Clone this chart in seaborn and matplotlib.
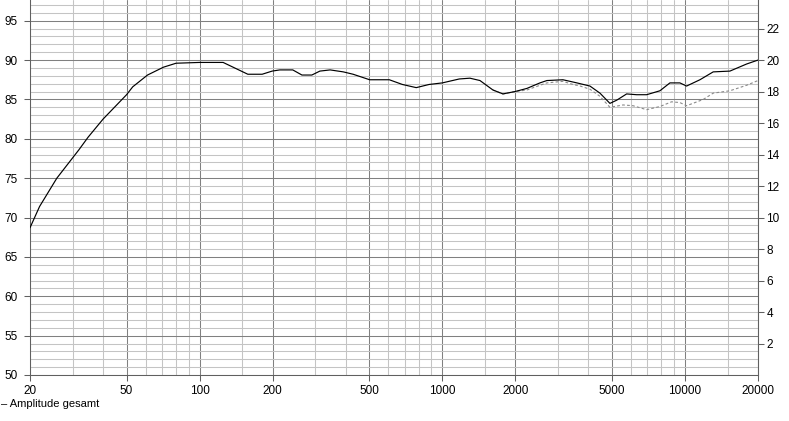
import numpy as np
import pandas as pd
import matplotlib
matplotlib.use("Agg")
import matplotlib.pyplot as plt
import seaborn as sns
from matplotlib.ticker import FixedLocator, NullFormatter

# ── Data ──────────────────────────────────────────────────────
freq_total = [20, 21.9, 25.8, 31.8, 34.7, 40, 50, 53, 61, 71, 80, 100, 125, 158, 181,
              199, 214, 242, 264, 290, 313, 345, 391, 429, 502, 605, 685, 781, 882,
              1000, 1175, 1300, 1430, 1617, 1778, 1993, 2232, 2526, 2698, 3142, 3588,
              4060, 4464, 4907, 5230, 5750, 6322, 6950, 7886, 8670, 9534, 10156,
              11526, 13074, 15320, 17950, 20000]
amp_total = [68.7, 71.4, 75.0, 78.6, 80.2, 82.5, 85.6, 86.6, 88.1, 89.1, 89.6, 89.7,
             89.7, 88.2, 88.2, 88.6, 88.75, 88.75, 88.1, 88.1, 88.6, 88.75, 88.5, 88.2,
             87.5, 87.5, 86.9, 86.5, 86.9, 87.1, 87.6, 87.7, 87.4, 86.2, 85.7, 86.0,
             86.4, 87.1, 87.4, 87.5, 87.1, 86.7, 85.8, 84.5, 84.9, 85.7, 85.6, 85.6,
             86.1, 87.1, 87.1, 86.7, 87.5, 88.5, 88.6, 89.5, 90.0]

freq_ref = [1617, 1778, 1993, 2232, 2526, 2698, 3142, 3454, 3700, 4060, 4464, 4907,
            5560, 6113, 6950, 7886, 8812, 9534, 10156, 11897, 13074, 15320, 17950, 20000]
amp_ref = [86.2, 85.7, 86.0, 86.2, 86.8, 87.1, 87.3, 86.9, 86.7, 86.3, 85.4, 84.0,
           84.3, 84.2, 83.7, 84.1, 84.7, 84.6, 84.2, 85.0, 85.8, 86.1, 86.8, 87.4]

x_major = [20, 50, 100, 200, 500, 1000, 2000, 5000, 10000, 20000]
x_minor = [30, 40, 60, 70, 80, 90, 150, 300, 400, 600, 700, 800, 900, 1500,
           3000, 4000, 6000, 7000, 8000, 9000, 15000]
y_left_ticks = list(range(50, 100, 5))
y_right_ticks = list(range(2, 24, 2))

df_total = pd.DataFrame({"freq": freq_total, "amp": amp_total})
df_ref = pd.DataFrame({"freq": freq_ref, "amp": amp_ref})

# ── Figure ────────────────────────────────────────────────────
sns.set_style("white")
plt.rcParams["font.family"] = ["Liberation Sans", "DejaVu Sans"]

W, H = 789, 421
fig = plt.figure(figsize=(W / 100, H / 100), dpi=100)
ax = fig.add_axes([30 / W, (H - 375) / H, 728 / W, 375 / H])

MAJOR = "#808080"
MINOR = "#c4c4c4"
AXIS = "#606060"

sns.lineplot(data=df_ref, x="freq", y="amp", ax=ax, color="#8a8a8a",
             linewidth=0.8, linestyle=(0, (2.5, 2)), zorder=3)
sns.lineplot(data=df_total, x="freq", y="amp", ax=ax, color="black",
             linewidth=0.85, zorder=4)

ax.set_xscale("log")
ax.set_xlim(20, 20000)
ax.set_ylim(50, 97.63)

ax.xaxis.set_major_locator(FixedLocator(x_major))
ax.xaxis.set_minor_locator(FixedLocator(x_minor))
ax.xaxis.set_minor_formatter(NullFormatter())
ax.set_xticklabels([str(v) for v in x_major])
ax.yaxis.set_major_locator(FixedLocator(y_left_ticks))
ax.yaxis.set_minor_locator(FixedLocator([v for v in range(50, 98) if v % 5]))
ax.set_yticklabels([str(v) for v in y_left_ticks])

ax.grid(which="major", color=MAJOR, linewidth=0.75)
ax.grid(which="minor", color=MINOR, linewidth=0.75)
ax.set_axisbelow(True)

ax.tick_params(which="major", axis="y", length=4, width=0.75, color=AXIS,
               labelsize=8.5, labelcolor="black", pad=5, direction="out", left=True)
ax.tick_params(which="major", axis="x", length=4, width=0.75, color=AXIS,
               labelsize=8.5, labelcolor="black", pad=3, direction="out", bottom=True)
ax.tick_params(which="minor", length=0)
ax.set_xlabel("")
ax.set_ylabel("")

ax.spines["top"].set_visible(False)
for side in ["left", "bottom", "right"]:
    ax.spines[side].set_color(AXIS)
    ax.spines[side].set_linewidth(0.75)

# right hand scale
ax2 = ax.twinx()
ax2.set_ylim(0, (97.63 - 50) / 2)
ax2.yaxis.set_major_locator(FixedLocator(y_right_ticks))
ax2.set_yticklabels([str(v) for v in y_right_ticks])
ax2.tick_params(axis="y", length=4, width=0.75, color=AXIS,
                labelsize=8.5, labelcolor="black", pad=2, direction="out")
for side in ["top", "left", "bottom"]:
    ax2.spines[side].set_visible(False)
ax2.spines["right"].set_color(AXIS)
ax2.spines["right"].set_linewidth(0.75)
ax2.grid(False)
# the "24" label sits half outside the top edge, as in the reference
ax2.text(1.0, 24, "  24", transform=ax2.get_yaxis_transform(), clip_on=False,
         ha="left", va="center", fontsize=8.5, color="black")

fig.text(1 / W, 1 - 404 / H, "\u2013 Amplitude gesamt", ha="left", va="center",
         fontsize=8, color="black")

fig.savefig("out.png", dpi=100)
